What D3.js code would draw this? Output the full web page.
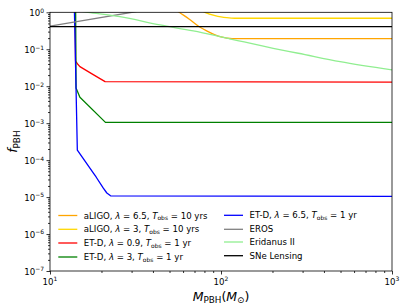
<!DOCTYPE html>
<html>
<head>
<meta charset="utf-8">
<script src="https://cdnjs.cloudflare.com/ajax/libs/d3/7.8.5/d3.min.js"></script>
<style>
    body { margin: 0; background: #fff; }
    svg text { font-family: "DejaVu Sans", sans-serif; fill: #000; }
</style>
</head>
<body>
<svg id="chart" width="407" height="305"></svg>
<script>
// [M_PBH, f_PBH] pairs
var aligo65 = [[47, 1.9], [57, 1.0], [65, 0.66], [74.6, 0.408], [83, 0.31], [92.3, 0.245], [100, 0.215], [108, 0.2], [116, 0.193], [1000, 0.193]];
var aligo3 = [[72, 1.35], [80.5, 1.0], [92.3, 0.81], [100, 0.75], [108, 0.715], [120, 0.69], [1000, 0.69]];
var etd09 = [[14.0, 5], [14.1, 0.048], [14.5, 0.04], [14.96, 0.034], [18, 0.0203], [21, 0.0133], [1000, 0.0129]];
var etd3 = [[14.1, 5], [14.2, 0.009], [14.96, 0.005], [21.1, 0.00105], [1000, 0.00105]];
var etd65 = [[13.8, 5], [14.45, 1.86e-4], [17.9, 4.5e-5], [18.6, 3.5e-5], [20.5, 1.74e-5], [21.5, 1.29e-5], [22.6, 1.08e-5], [1000, 1.05e-5]];
var eros = [[9, 0.385], [10, 0.42], [30.1, 1.0], [50, 1.5]];
var eridanus = [[12, 1.25], [16.7, 1.0], [25.6, 0.76], [44, 0.454], [68.9, 0.313], [103, 0.211], [202, 0.106], [283, 0.078], [497, 0.046], [1000, 0.0275]];
var sneLensing = [[10, 0.41], [1000, 0.41]];

var xMajor = [10, 100, 1000];
var xExp = ["1", "2", "3"];
var yMajor = [1e-7, 1e-6, 1e-5, 1e-4, 1e-3, 1e-2, 1e-1, 1];
var yExp = ["\u22127", "\u22126", "\u22125", "\u22124", "\u22123", "\u22122", "\u22121", "0"];

// legend label pieces: [text, kind]  kind: n normal, i italic, s subscript
var labels = [
    [["aLIGO, ", "n"], ["\u03bb", "i"], [" = 6.5, ", "n"], ["T", "i"], ["obs", "s"], [" = 10 yrs", "n"]],
    [["aLIGO, ", "n"], ["\u03bb", "i"], [" = 3, ", "n"], ["T", "i"], ["obs", "s"], [" = 10 yrs", "n"]],
    [["ET-D, ", "n"], ["\u03bb", "i"], [" = 0.9, ", "n"], ["T", "i"], ["obs", "s"], [" = 1 yr", "n"]],
    [["ET-D, ", "n"], ["\u03bb", "i"], [" = 3, ", "n"], ["T", "i"], ["obs", "s"], [" = 1 yr", "n"]],
    [["ET-D, ", "n"], ["\u03bb", "i"], [" = 6.5, ", "n"], ["T", "i"], ["obs", "s"], [" = 1 yr", "n"]],
    [["EROS", "n"]],
    [["Eridanus II", "n"]],
    [["SNe Lensing", "n"]]
];
var colors = ["orange", "gold", "red", "green", "blue", "gray", "lightgreen", "black"];
var allData = [aligo65, aligo3, etd09, etd3, etd65, eros, eridanus, sneLensing];
var smooth = [true, true, false, false, false, false, true, false];

var svg = d3.select("#chart");
svg.append("rect").attr("width", 407).attr("height", 305).attr("fill", "#fff");

var pLeft = 50, pRight = 392, pTop = 12.3, pBottom = 271;
var x = d3.scaleLog().domain([10, 1000]).range([pLeft, pRight]);
var y = d3.scaleLog().domain([1e-7, 1]).range([pBottom, pTop]);

svg.append("clipPath").attr("id", "clip")
    .append("rect")
    .attr("x", pLeft).attr("y", pTop)
    .attr("width", pRight - pLeft).attr("height", pBottom - pTop);

// curves
var plot = svg.append("g").attr("clip-path", "url(#clip)");
allData.forEach(function(data, i) {
    var line = d3.line()
        .x(function(d) { return x(d[0]); })
        .y(function(d) { return y(d[1]); })
        .curve(smooth[i] ? d3.curveMonotoneX : d3.curveLinear);
    plot.append("path")
        .datum(data)
        .attr("d", line)
        .attr("fill", "none")
        .attr("stroke", colors[i])
        .attr("stroke-width", 1.3)
        .attr("stroke-linejoin", "round");
});

// minor tick positions
var xMinor = [], yMinor = [];
[10, 100].forEach(function(dec) {
    for (var k = 2; k < 10; k++) xMinor.push(k * dec);
});
for (var e = -7; e < 0; e++) {
    for (var k = 2; k < 10; k++) yMinor.push(k * Math.pow(10, e));
}

function styleAxis(g) {
    g.select(".domain").remove();
    g.selectAll("line").attr("stroke", "#000").attr("stroke-width", 0.8);
}

svg.append("g").attr("transform", "translate(0," + pBottom + ")")
    .call(d3.axisBottom(x).tickValues(xMajor).tickSize(3.5).tickFormat(""))
    .call(styleAxis);
svg.append("g").attr("transform", "translate(0," + pBottom + ")")
    .call(d3.axisBottom(x).tickValues(xMinor).tickSize(2).tickFormat(""))
    .call(styleAxis);
svg.append("g").attr("transform", "translate(" + pLeft + ",0)")
    .call(d3.axisLeft(y).tickValues(yMajor).tickSize(3.5).tickFormat(""))
    .call(styleAxis);
svg.append("g").attr("transform", "translate(" + pLeft + ",0)")
    .call(d3.axisLeft(y).tickValues(yMinor).tickSize(2).tickFormat(""))
    .call(styleAxis);

// frame
svg.append("rect")
    .attr("x", pLeft).attr("y", pTop)
    .attr("width", pRight - pLeft).attr("height", pBottom - pTop)
    .attr("fill", "none").attr("stroke", "#000").attr("stroke-width", 0.8);

// tick labels
xMajor.forEach(function(v, i) {
    var t = svg.append("text")
        .attr("x", x(v)).attr("y", pBottom + 14)
        .attr("text-anchor", "middle")
        .attr("font-size", 8.6);
    t.append("tspan").text("10");
    t.append("tspan").attr("dy", -3.6).attr("font-size", 6).text(xExp[i]);
});
yMajor.forEach(function(v, i) {
    var t = svg.append("text")
        .attr("x", pLeft - 6).attr("y", y(v) + 4)
        .attr("text-anchor", "end")
        .attr("font-size", 8.6);
    t.append("tspan").text("10");
    t.append("tspan").attr("dy", -3.6).attr("font-size", 6).text(yExp[i]);
});

// axis labels
var xl = svg.append("text")
    .attr("x", (pLeft + pRight) / 2).attr("y", 300.5)
    .attr("text-anchor", "middle")
    .attr("font-size", 12.5);
xl.append("tspan").attr("font-style", "italic").text("M");
xl.append("tspan").attr("dy", 2.5).attr("font-size", 8.8).text("PBH");
xl.append("tspan").attr("dy", -2.5).text("(");
xl.append("tspan").attr("font-style", "italic").text("M");
xl.append("tspan").attr("dy", 2.5).attr("font-size", 8.8).text("\u2299");
xl.append("tspan").attr("dy", -2.5).text(")");

var yl = svg.append("text")
    .attr("transform", "translate(17," + ((pTop + pBottom) / 2) + ") rotate(-90)")
    .attr("text-anchor", "middle")
    .attr("font-size", 12.5);
yl.append("tspan").attr("font-style", "italic").text("f");
yl.append("tspan").attr("dy", 2.5).attr("font-size", 8.8).text("PBH");

// legend
var legRows = [215.5, 229.3, 243, 257];
var legRowsR = [215.3, 229.3, 242, 255.7];
labels.forEach(function(parts, i) {
    var col = i < 4 ? 0 : 1;
    var row = i % 4;
    var x0 = col === 0 ? 58.3 : 224;
    var yy = col === 0 ? legRows[row] : legRowsR[row];
    svg.append("line")
        .attr("x1", x0).attr("x2", x0 + 19)
        .attr("y1", yy).attr("y2", yy)
        .attr("stroke", colors[i]).attr("stroke-width", 1.3);
    var t = svg.append("text")
        .attr("x", x0 + 25.5).attr("y", yy + 3)
        .attr("font-size", 8.6);
    var sub = false;
    parts.forEach(function(p) {
        var ts = t.append("tspan").text(p[0]);
        if (p[1] === "i") ts.attr("font-style", "italic");
        if (p[1] === "s") { ts.attr("font-size", 6).attr("dy", 1.8); sub = true; }
        else if (sub) { ts.attr("dy", -1.8); sub = false; }
    });
});
</script>
</body>
</html>
